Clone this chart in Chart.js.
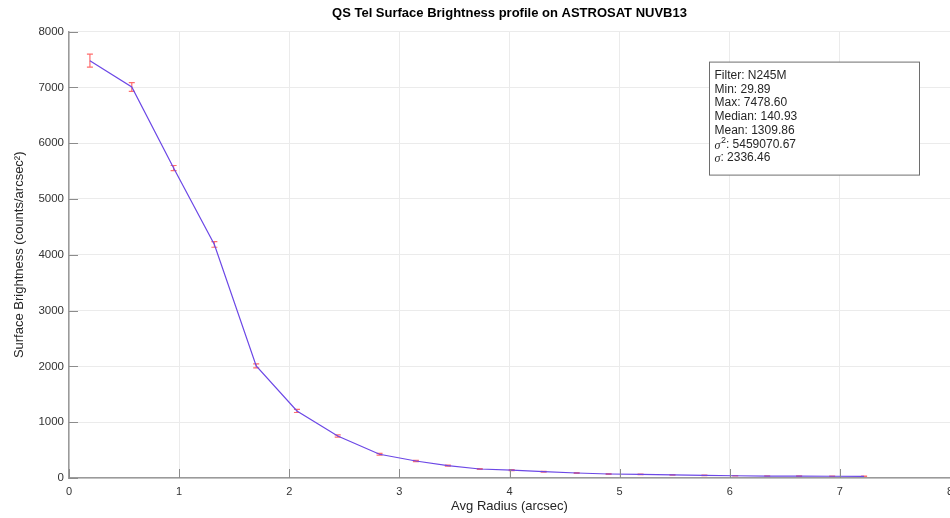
<!DOCTYPE html>
<html>
<head>
<meta charset="utf-8">
<title>QS Tel Surface Brightness profile</title>
<script src="https://cdn.jsdelivr.net/npm/chart.js@4.4.1/dist/chart.umd.min.js"></script>
<style>
  html, body { margin: 0; padding: 0; background: #fff; }
  #wrap { width: 950px; height: 518px; }
</style>
</head>
<body>
<div id="wrap"><canvas id="profileChart" width="950" height="518"></canvas></div>
<script>
// Average radius of each annulus (arcsec)
const radii = [0.19, 0.57, 0.95, 1.32, 1.70, 2.07, 2.44, 2.82, 3.15, 3.44, 3.73, 4.02,
               4.31, 4.61, 4.90, 5.19, 5.48, 5.77, 6.05, 6.34, 6.63, 6.93, 7.22];
// Surface brightness per annulus (counts/arcsec^2)
const brightness = [7478.6, 7008, 5555, 4185, 2009, 1202, 753, 425, 305, 221, 161, 140.93,
                    113, 90, 72, 66, 57, 48, 40, 35, 33, 31, 29.89];
// 1-sigma error on each brightness value
const brightnessErr = [117, 78, 45, 50, 35, 28, 20, 15, 12, 10, 9, 8,
                       7, 6, 6, 5, 5, 4, 4, 4, 4, 3, 3];

// Summary statistics shown in the box
const statNames = ['Filter', 'Min', 'Max', 'Median', 'Mean', 'σ^2', 'σ'];
const statValues = ['N245M', '29.89', '7478.60', '140.93', '1309.86', '5459070.67', '2336.46'];

Chart.defaults.font.family = '"Liberation Sans", Arial, Helvetica, sans-serif';

// Red error bars with small caps, drawn under the profile line
const errorBars = {
    id: 'errorBars',
    beforeDatasetsDraw(chart) {
        const { ctx, scales: { x, y } } = chart;
        ctx.save();
        ctx.strokeStyle = 'rgba(255, 60, 60, 0.75)';
        ctx.lineWidth = 1.2;
        radii.forEach((r, i) => {
            const px = x.getPixelForValue(r);
            const top = y.getPixelForValue(brightness[i] + brightnessErr[i]);
            const bot = y.getPixelForValue(brightness[i] - brightnessErr[i]);
            ctx.beginPath();
            ctx.moveTo(px, top); ctx.lineTo(px, bot);
            ctx.moveTo(px - 3, top); ctx.lineTo(px + 3, top);
            ctx.moveTo(px - 3, bot); ctx.lineTo(px + 3, bot);
            ctx.stroke();
        });
        ctx.restore();
    }
};

// Tick marks pointing into the plot area
const innerTicks = {
    id: 'innerTicks',
    afterDatasetsDraw(chart) {
        const { ctx, chartArea: ca, scales: { x, y } } = chart;
        ctx.save();
        ctx.strokeStyle = '#8c8c8c';
        ctx.lineWidth = 1;
        ctx.beginPath();
        x.ticks.forEach(t => {
            const px = Math.round(x.getPixelForValue(t.value)) + 0.5;
            ctx.moveTo(px, ca.bottom);
            ctx.lineTo(px, ca.bottom - 9);
        });
        y.ticks.forEach(t => {
            const py = Math.round(y.getPixelForValue(t.value)) + 0.5;
            ctx.moveTo(ca.left, py);
            ctx.lineTo(ca.left + 9, py);
        });
        ctx.stroke();
        ctx.restore();
    }
};

// Boxed list of summary statistics in the upper right
const statsBox = {
    id: 'statsBox',
    afterDraw(chart) {
        const { ctx, chartArea: ca } = chart;
        const left = ca.left + 640.5, top = ca.top + 30.5;
        const w = 210, h = 113;
        ctx.save();
        ctx.fillStyle = '#fff';
        ctx.fillRect(left, top, w, h);
        ctx.strokeStyle = '#6e6e6e';
        ctx.lineWidth = 1;
        ctx.strokeRect(left, top, w, h);
        ctx.fillStyle = '#262626';
        ctx.textBaseline = 'middle';
        ctx.textAlign = 'left';
        const plain = '12px "Liberation Sans", Arial, sans-serif';
        statNames.forEach((name, i) => {
            let tx = left + 5;
            const ty = top + 13.5 + i * 13.75;
            if (name.startsWith('σ')) {
                ctx.font = 'italic 12px "Liberation Serif", serif';
                ctx.fillText('σ', tx, ty + 1);
                tx += ctx.measureText('σ').width;
                if (name.includes('^')) {
                    ctx.font = '9px "Liberation Sans", Arial, sans-serif';
                    const sup = name.split('^')[1];
                    ctx.fillText(sup, tx + 0.5, ty - 4);
                    tx += ctx.measureText(sup).width + 0.5;
                }
                ctx.font = plain;
                ctx.fillText(': ' + statValues[i], tx, ty);
            } else {
                ctx.font = plain;
                ctx.fillText(name + ': ' + statValues[i], tx, ty);
            }
        });
        ctx.restore();
    }
};

const ctx = document.getElementById('profileChart').getContext('2d');
new Chart(ctx, {
    type: 'line',
    data: {
        datasets: [{
            label: 'Surface Brightness',
            data: radii.map((r, i) => ({ x: r, y: brightness[i] })),
            borderColor: 'rgb(108, 72, 230)',
            borderWidth: 1.2,
            pointRadius: 0,
            tension: 0,
            fill: false
        }]
    },
    options: {
        responsive: false,
        animation: false,
        layout: { padding: 0 },
        plugins: {
            legend: { display: false },
            tooltip: { enabled: false },
            title: {
                display: true,
                text: 'QS Tel Surface Brightness profile on ASTROSAT NUVB13',
                color: '#000',
                font: { size: 13, weight: 'bold' },
                padding: { top: 6, bottom: 10 },
                fullSize: false
            }
        },
        scales: {
            x: {
                type: 'linear',
                min: 0,
                max: 8,
                ticks: { stepSize: 1, padding: 7, color: '#333', font: { size: 11 } },
                grid: { color: '#ebebeb', drawTicks: false },
                border: { color: '#9a9a9a', width: 1.5 },
                title: {
                    display: true,
                    text: 'Avg Radius (arcsec)',
                    color: '#262626',
                    font: { size: 13 },
                    padding: { top: 0, bottom: 4 }
                },
                afterFit(scale) {
                    scale.height = 40;
                    scale.paddingRight = 0;
                }
            },
            y: {
                min: 0,
                max: 8000,
                ticks: {
                    stepSize: 1000,
                    padding: 5,
                    color: '#333',
                    font: { size: 11.5 },
                    callback: v => String(v)
                },
                grid: { color: '#ebebeb', drawTicks: false },
                border: { color: '#9a9a9a', width: 1.5 },
                title: {
                    display: true,
                    text: 'Surface Brightness (counts/arcsec²)',
                    color: '#262626',
                    font: { size: 13 },
                    padding: { top: 12, bottom: 0 }
                },
                afterFit(scale) {
                    scale.width = 69;
                }
            }
        }
    },
    plugins: [errorBars, innerTicks, statsBox]
});
</script>
</body>
</html>
